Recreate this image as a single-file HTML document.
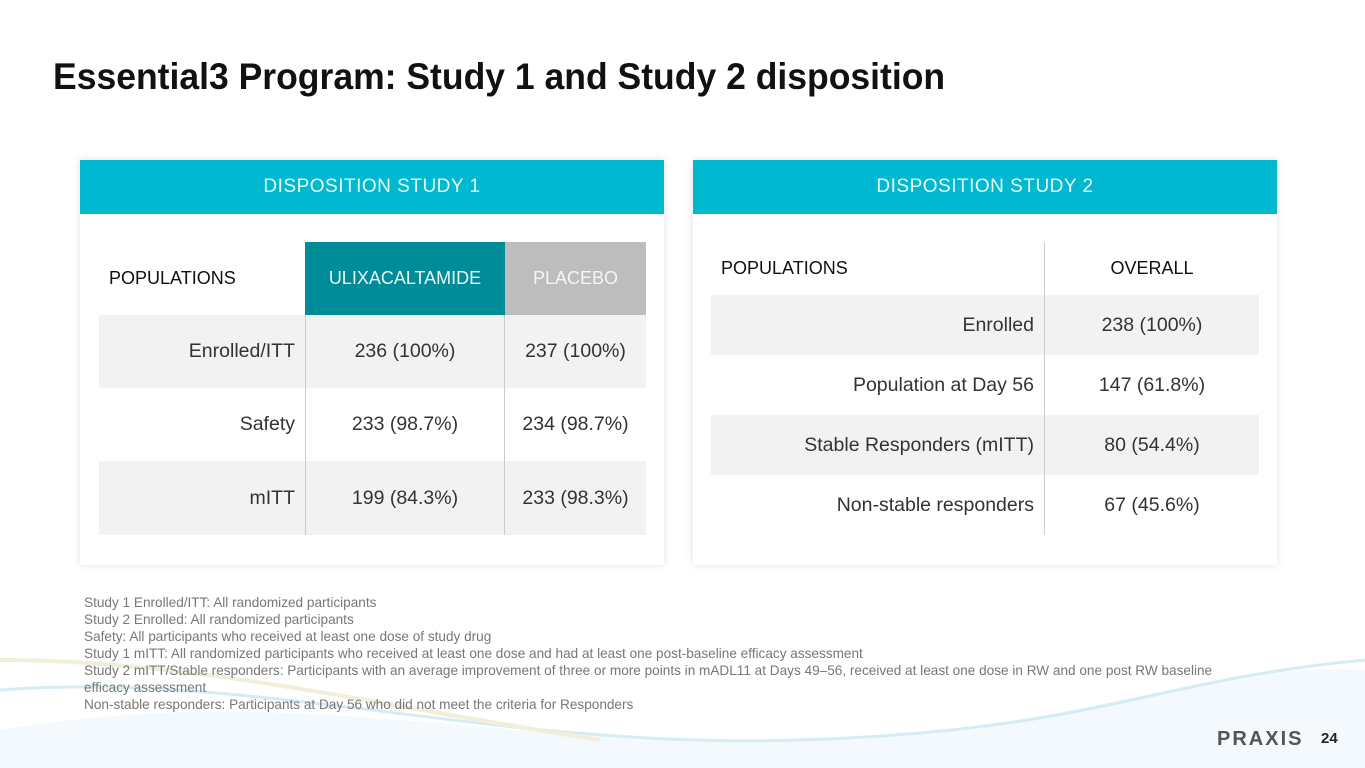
<!DOCTYPE html>
<html><head><meta charset="utf-8"><style>
body{margin:0;width:1365px;height:768px;overflow:hidden;background:#fff;font-family:"Liberation Sans",sans-serif;position:relative}
.a{position:absolute}
.card{position:absolute;top:160px;width:584px;height:405px;background:#fff;box-shadow:0 0 8px rgba(0,0,0,0.12)}
.hd{position:absolute;left:0;top:0;width:100%;height:54px;background:#00b8cf;color:#e8f9fb;font-size:19px;letter-spacing:0.5px;text-align:center;line-height:54px}
.c{position:absolute;display:flex;align-items:center;font-size:19.5px;color:#333;box-sizing:border-box}
.r{justify-content:flex-end;padding-right:10px}
.m{justify-content:center}
.g{background:#f2f2f2}
.fn{font-size:13.6px;color:#777;line-height:17px}
</style></head><body>
<div class="a" style="left:53px;top:56px;font-size:37px;font-weight:bold;color:#111;transform:scaleX(0.96);transform-origin:left top;white-space:nowrap">Essential3 Program: Study 1 and Study 2 disposition</div>
<svg class="a" style="left:0;top:600px" width="1365" height="168"><path d="M0 130 C300 80 500 150 800 140 S1200 60 1365 70 L1365 168 L0 168Z" fill="#eef7fb" opacity="0.7"/><path d="M0 90 C250 70 500 150 800 140 S1150 80 1365 60" stroke="#d6ecf5" stroke-width="3" fill="none"/><path d="M0 60 C200 60 400 110 600 140" stroke="#f2eed8" stroke-width="4" fill="none"/></svg>
<div class="card" style="left:80px">
<div class="hd">DISPOSITION STUDY 1</div>
<div class="c" style="left:19px;top:82px;width:206px;height:73px;padding-left:10px;color:#111;font-size:18px">POPULATIONS</div>
<div class="c m" style="left:225px;top:82px;width:200px;height:73px;background:#008b98;color:#e8f6f7;font-size:18px">ULIXACALTAMIDE</div>
<div class="c m" style="left:425px;top:82px;width:141px;height:73px;background:#bdbdbd;color:#f5f5f5;font-size:18px">PLACEBO</div>
<div class="c g r" style="left:19px;top:155px;width:206px;height:73px">Enrolled/ITT</div>
<div class="c g m" style="left:225px;top:155px;width:200px;height:73px;border-left:1px solid #ccc;border-right:1px solid #ccc">236 (100%)</div>
<div class="c g m" style="left:425px;top:155px;width:141px;height:73px">237 (100%)</div>
<div class="c r" style="left:19px;top:228px;width:206px;height:73px">Safety</div>
<div class="c m" style="left:225px;top:228px;width:200px;height:73px;border-left:1px solid #ccc;border-right:1px solid #ccc">233 (98.7%)</div>
<div class="c m" style="left:425px;top:228px;width:141px;height:73px">234 (98.7%)</div>
<div class="c g r" style="left:19px;top:301px;width:206px;height:74px">mITT</div>
<div class="c g m" style="left:225px;top:301px;width:200px;height:74px;border-left:1px solid #ccc;border-right:1px solid #ccc">199 (84.3%)</div>
<div class="c g m" style="left:425px;top:301px;width:141px;height:74px">233 (98.3%)</div>
</div>
<div class="card" style="left:693px">
<div class="hd">DISPOSITION STUDY 2</div>
<div class="a" style="left:351px;top:82px;width:1px;height:293px;background:#ccc"></div>
<div class="c" style="left:18px;top:82px;width:333px;height:53px;padding-left:10px;color:#111;font-size:18px">POPULATIONS</div>
<div class="c m" style="left:352px;top:82px;width:214px;height:53px;color:#111;font-size:18px">OVERALL</div>
<div class="c g r" style="left:18px;top:135px;width:333px;height:60px">Enrolled</div>
<div class="c g m" style="left:352px;top:135px;width:214px;height:60px">238 (100%)</div>
<div class="c r" style="left:18px;top:195px;width:333px;height:60px">Population at Day 56</div>
<div class="c m" style="left:352px;top:195px;width:214px;height:60px">147 (61.8%)</div>
<div class="c g r" style="left:18px;top:255px;width:333px;height:60px">Stable Responders (mITT)</div>
<div class="c g m" style="left:352px;top:255px;width:214px;height:60px">80 (54.4%)</div>
<div class="c r" style="left:18px;top:315px;width:333px;height:60px">Non-stable responders</div>
<div class="c m" style="left:352px;top:315px;width:214px;height:60px">67 (45.6%)</div>
</div>
<div class="a fn" style="left:84px;top:594px;width:1175px">Study 1 Enrolled/ITT: All randomized participants<br>Study 2 Enrolled: All randomized participants<br>Safety: All participants who received at least one dose of study drug<br>Study 1 mITT: All randomized participants who received at least one dose and had at least one post-baseline efficacy assessment<br>Study 2 mITT/Stable responders: Participants with an average improvement of three or more points in mADL11 at Days 49–56, received at least one dose in RW and one post RW baseline efficacy assessment<br>Non-stable responders: Participants at Day 56 who did not meet the criteria for Responders</div>
<div class="a" style="left:1217px;top:728px;font-size:20px;font-weight:bold;color:#555;letter-spacing:2px">PRAXIS</div>
<div class="a" style="left:1321px;top:730px;font-size:15px;font-weight:bold;color:#222">24</div>
</body></html>
